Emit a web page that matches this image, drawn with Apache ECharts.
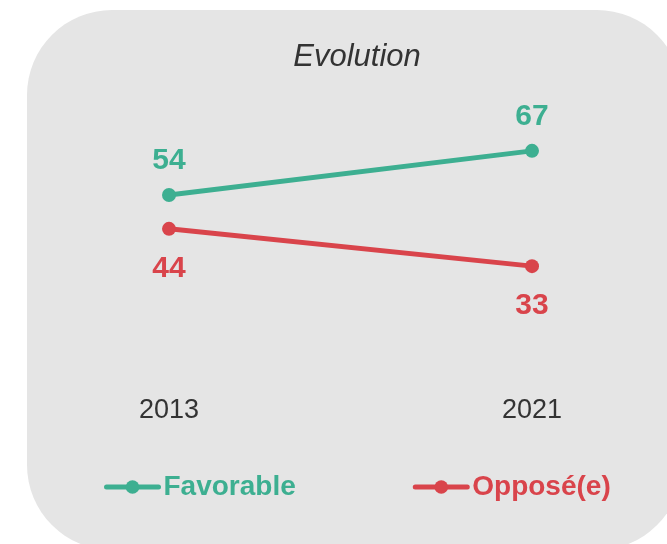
<!DOCTYPE html>
<html>
<head>
<meta charset="utf-8">
<script src="https://cdn.jsdelivr.net/npm/echarts@6/dist/echarts.min.js"></script>
<style>
  html, body { margin: 0; padding: 0; background: #fff; }
  #chart { width: 667px; height: 544px; }
</style>
</head>
<body>
<div id="chart"></div>
<script>
  var years = ['2013', '2021']
  var favorable = [54, 67]
  var oppose = [44, 33]
  var seriesNames = ['Favorable', 'Opposé(e)']

  var green = '#3daf91'
  var red = '#d9444b'
  var font = "'Liberation Sans', Arial, sans-serif"

  var chart = echarts.init(document.getElementById('chart'))

  function lineSeries(name, data, color, pos, dist) {
    return {
      name: name,
      type: 'line',
      data: data,
      symbol: 'circle',
      symbolSize: 14,
      lineStyle: {width: 5, color: color},
      itemStyle: {color: color},
      label: {
        show: true,
        position: pos,
        distance: dist,
        color: color,
        fontFamily: font,
        fontWeight: 'bold',
        fontSize: 30
      }
    }
  }

  chart.setOption({
    animation: false,
    graphic: [{
      type: 'rect',
      z: -10,
      shape: {x: 27, y: 10, width: 655, height: 540, r: 85},
      style: {fill: '#e5e5e5'}
    }],
    title: {
      text: 'Evolution',
      left: 352,
      textAlign: 'center',
      top: 37,
      textStyle: {
        fontFamily: font,
        fontStyle: 'italic',
        fontWeight: 'normal',
        fontSize: 31,
        color: '#333'
      }
    },
    legend: {
      data: seriesNames,
      left: 99,
      top: 468,
      itemWidth: 52,
      itemHeight: 17,
      itemGap: 117,
      selectedMode: false,
      lineStyle: {width: 5, cap: 'round'},
      textStyle: {
        fontFamily: font,
        fontWeight: 'bold',
        fontSize: 28,
        color: 'inherit'
      }
    },
    grid: {left: 169, right: 135, top: 39, bottom: 166, containLabel: false},
    xAxis: {
      type: 'category',
      data: years,
      boundaryGap: false,
      axisLine: {show: false},
      axisTick: {show: false},
      axisLabel: {
        margin: 19,
        fontFamily: font,
        fontSize: 27,
        color: '#333'
      }
    },
    yAxis: {
      type: 'value',
      min: 0,
      max: 100,
      show: false
    },
    series: [
      lineSeries(seriesNames[0], favorable, green, 'top', 12),
      lineSeries(seriesNames[1], oppose, red, 'bottom', 18)
    ]
  })
</script>
</body>
</html>
